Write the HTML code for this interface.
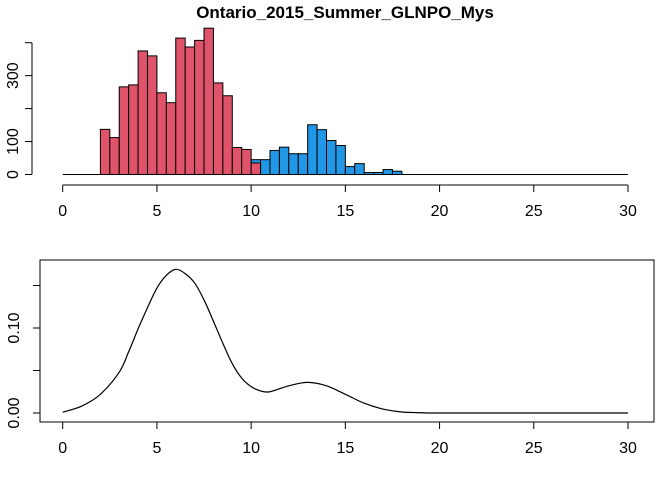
<!DOCTYPE html>
<html><head><meta charset="utf-8"><style>body{margin:0;background:#fff}svg text{font-family:"Liberation Sans",Arial,sans-serif;fill:#000}</style></head>
<body>
<svg id="c" width="672" height="480" viewBox="0 0 672 480">
<text x="345" y="18" text-anchor="middle" font-size="17" font-weight="bold">Ontario_2015_Summer_GLNPO_Mys</text>
<g id="topPanel"></g>
<g id="botPanel"></g>
</svg>
<script>
const redStarts=[2,2.5,3,3.5,4,4.5,5,5.5,6,6.5,7,7.5,8,8.5,9,9.5,10];
const redCounts=[137,112,266,272,375,360,248,218,414,387,407,444,278,239,82,76,35];
const blueStarts=[10,10.5,11,11.5,12,12.5,13,13.5,14,14.5,15,15.5,16,16.5,17,17.5];
const blueCounts=[45,45,73,83,63,63,151,136,103,88,24,33,6,6,15,10];
const xTicks=[0,5,10,15,20,25,30];
const histYTicks=[0,100,200,300,400];
const histYLabels=["0","100","","300",""];
const densX=[0,1,2,3,3.5,4,4.5,5,5.5,6,6.5,7,7.5,8,8.5,9,9.5,10,10.5,11,12,13,14,15,16,17,18,19,20,25,30];
const densY=[0.001,0.008,0.022,0.048,0.072,0.099,0.124,0.147,0.162,0.169,0.164,0.153,0.133,0.108,0.082,0.058,0.041,0.031,0.026,0.025,0.032,0.036,0.032,0.022,0.0115,0.0046,0.0012,0.0003,0,0,0];
const densYTicks=[0,0.05,0.10,0.15];
const densYLabels=["0.00","","0.10",""];
const NS="http://www.w3.org/2000/svg";
const bw=0.5;
const xs=v=>62.7+v*(628-62.7)/30;
const hy=v=>174.5-v*0.3295;
const dy=v=>413-v*850;
function mk(p,tag,at){const e=document.createElementNS(NS,tag);for(const k in at)e.setAttribute(k,at[k]);p.appendChild(e);return e;}
const topG=document.getElementById('topPanel'),botG=document.getElementById('botPanel');
blueStarts.forEach((s,i)=>{const r=mk(topG,'rect',{x:xs(s),y:hy(blueCounts[i]),width:xs(s+bw)-xs(s),height:hy(0)-hy(blueCounts[i]),fill:'#2297e6',stroke:'#000','stroke-width':1});

});
redStarts.forEach((s,i)=>{const r=mk(topG,'rect',{x:xs(s),y:hy(redCounts[i]),width:xs(s+bw)-xs(s),height:hy(0)-hy(redCounts[i]),fill:'#df536b',stroke:'#000','stroke-width':1});

});
mk(topG,'line',{x1:xs(0),x2:xs(30),y1:hy(0),y2:hy(0),stroke:'#000'});
mk(topG,'line',{x1:32,x2:32,y1:hy(0),y2:hy(400),stroke:'#000'});
histYTicks.forEach((t,i)=>{mk(topG,'line',{x1:25,x2:32,y1:hy(t),y2:hy(t),stroke:'#000'});
if(histYLabels[i]){const tx=mk(topG,'text',{x:0,y:0,'font-size':16,'text-anchor':'middle',transform:`translate(18,${hy(t)}) rotate(-90)`});tx.textContent=histYLabels[i];

}});
mk(topG,'line',{x1:xs(0),x2:xs(30),y1:185,y2:185,stroke:'#000'});
xTicks.forEach(t=>{mk(topG,'line',{x1:xs(t),x2:xs(t),y1:185,y2:192,stroke:'#000'});
const tx=mk(topG,'text',{x:xs(t),y:216,'font-size':16,'text-anchor':'middle'});tx.textContent=t;

});
mk(botG,'rect',{x:40,y:260,width:614,height:162,fill:'none',stroke:'#000'});
densYTicks.forEach((t,i)=>{mk(botG,'line',{x1:33,x2:40,y1:dy(t),y2:dy(t),stroke:'#000'});
if(densYLabels[i]){const tx=mk(botG,'text',{x:0,y:0,'font-size':16,'text-anchor':'middle',transform:`translate(19,${dy(t)}) rotate(-90)`});tx.textContent=densYLabels[i];

}});
xTicks.forEach(t=>{mk(botG,'line',{x1:xs(t),x2:xs(t),y1:422,y2:429,stroke:'#000'});
const tx=mk(botG,'text',{x:xs(t),y:453,'font-size':16,'text-anchor':'middle'});tx.textContent=t;

});
const P=densX.map((x,i)=>[xs(x),dy(densY[i])]);
let d=`M${P[0][0]},${P[0][1]}`;
for(let i=0;i<P.length-1;i++){const p0=P[Math.max(0,i-1)],p1=P[i],p2=P[i+1],p3=P[Math.min(P.length-1,i+2)];
d+=` C${p1[0]+(p2[0]-p0[0])/6},${p1[1]+(p2[1]-p0[1])/6} ${p2[0]-(p3[0]-p1[0])/6},${p2[1]-(p3[1]-p1[1])/6} ${p2[0]},${p2[1]}`;}
const ln=mk(botG,'path',{d:d,fill:'none',stroke:'#000','stroke-width':1.2});


</script>
</body></html>
